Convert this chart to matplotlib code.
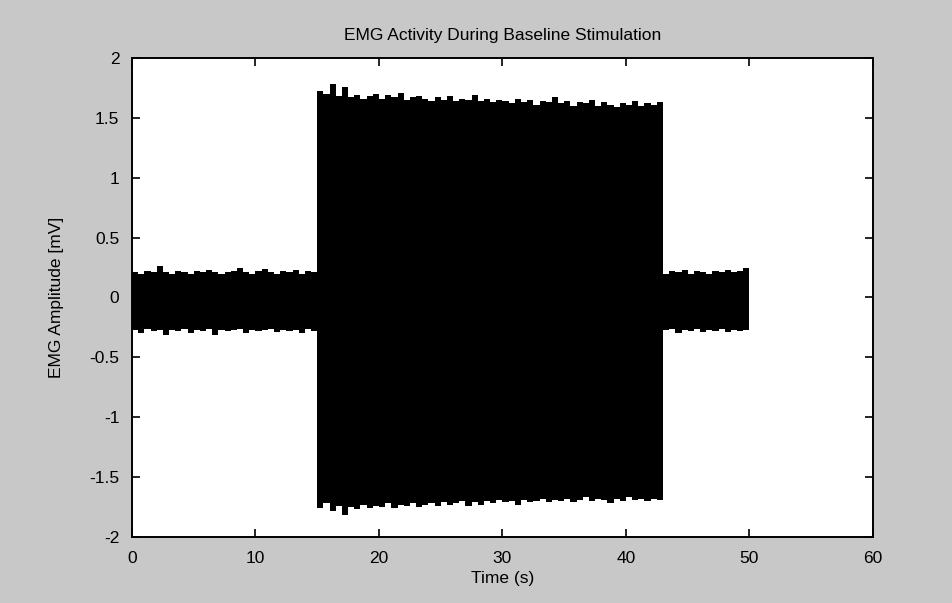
import numpy as np
import matplotlib.pyplot as plt

plt.rcParams['font.family'] = ['Liberation Sans', 'DejaVu Sans']

t_env = np.arange(0, 50.01, 0.5)

# baseline before stimulation (0 - 14.5 s)
base1_upper = [0.21, 0.20, 0.22, 0.21, 0.26, 0.21, 0.20, 0.22, 0.21, 0.20,
               0.22, 0.21, 0.23, 0.21, 0.20, 0.21, 0.22, 0.25, 0.21, 0.20,
               0.22, 0.24, 0.21, 0.20, 0.22, 0.21, 0.23, 0.20, 0.22, 0.21]
base1_lower = [-0.27, -0.30, -0.26, -0.28, -0.27, -0.31, -0.27, -0.28, -0.26, -0.30,
               -0.27, -0.28, -0.26, -0.31, -0.27, -0.28, -0.27, -0.26, -0.30, -0.27,
               -0.28, -0.27, -0.26, -0.29, -0.27, -0.28, -0.27, -0.30, -0.26, -0.28]

# stimulation burst (15 - 42.5 s)
burst_upper = [1.72, 1.70, 1.78, 1.68, 1.76, 1.67, 1.69, 1.66, 1.68, 1.70,
               1.66, 1.69, 1.67, 1.71, 1.65, 1.67, 1.68, 1.66, 1.64, 1.67,
               1.65, 1.68, 1.64, 1.66, 1.65, 1.69, 1.64, 1.66, 1.63, 1.65,
               1.64, 1.62, 1.66, 1.63, 1.65, 1.61, 1.64, 1.63, 1.67, 1.62,
               1.64, 1.60, 1.63, 1.62, 1.65, 1.60, 1.63, 1.61, 1.59, 1.62,
               1.61, 1.64, 1.60, 1.62, 1.61, 1.63]
burst_lower = [-1.76, -1.72, -1.78, -1.74, -1.82, -1.75, -1.77, -1.73, -1.76, -1.74,
               -1.75, -1.72, -1.76, -1.73, -1.74, -1.72, -1.75, -1.73, -1.72, -1.74,
               -1.71, -1.73, -1.72, -1.70, -1.74, -1.71, -1.73, -1.70, -1.72, -1.69,
               -1.71, -1.70, -1.73, -1.69, -1.71, -1.70, -1.68, -1.71, -1.69, -1.70,
               -1.68, -1.71, -1.69, -1.67, -1.70, -1.68, -1.69, -1.72, -1.68, -1.70,
               -1.67, -1.69, -1.68, -1.70, -1.68, -1.69]

# baseline after stimulation (43 - 50 s)
base2_upper = [0.20, 0.22, 0.21, 0.23, 0.20, 0.22, 0.21, 0.20, 0.22, 0.21,
               0.23, 0.21, 0.22, 0.25, 0.25]
base2_lower = [-0.27, -0.26, -0.30, -0.27, -0.28, -0.26, -0.29, -0.27, -0.28, -0.26,
               -0.29, -0.27, -0.28, -0.27, -0.27]

upper = np.array(base1_upper + burst_upper + base2_upper)
lower = np.array(base1_lower + burst_lower + base2_lower)

x_ticks = [0, 10, 20, 30, 40, 50, 60]
y_ticks = [-2, -1.5, -1, -0.5, 0, 0.5, 1, 1.5, 2]
y_tick_labels = ['-2', '-1.5', '-1', '-0.5', '0', '0.5', '1', '1.5', '2']

fig = plt.figure(figsize=(9.53, 6.03), dpi=100, facecolor='#c8c8c8')
ax = fig.add_axes([0.1385, 0.1095, 0.7775, 0.7944])
ax.set_facecolor('white')

ax.fill_between(t_env, lower, upper, step='post', color='black', linewidth=0)

ax.set_xlim(0, 60)
ax.set_ylim(-2, 2)
ax.set_xticks(x_ticks)
ax.set_yticks(y_ticks)
ax.set_yticklabels(y_tick_labels)
ax.tick_params(direction='in', length=6, width=1.2, top=True, right=True,
               labelsize=12.5)
ax.tick_params(axis='x', pad=10)
ax.tick_params(axis='y', pad=9)
for s in ax.spines.values():
    s.set_linewidth(1.4)

ax.set_title('EMG Activity During Baseline Stimulation', fontsize=12.5, pad=13)
ax.set_xlabel('Time (s)', fontsize=12.5, labelpad=4)
ax.set_ylabel('EMG Amplitude [mV]', fontsize=12.5, labelpad=18)

fig.savefig('out.png', dpi=100, facecolor=fig.get_facecolor())
